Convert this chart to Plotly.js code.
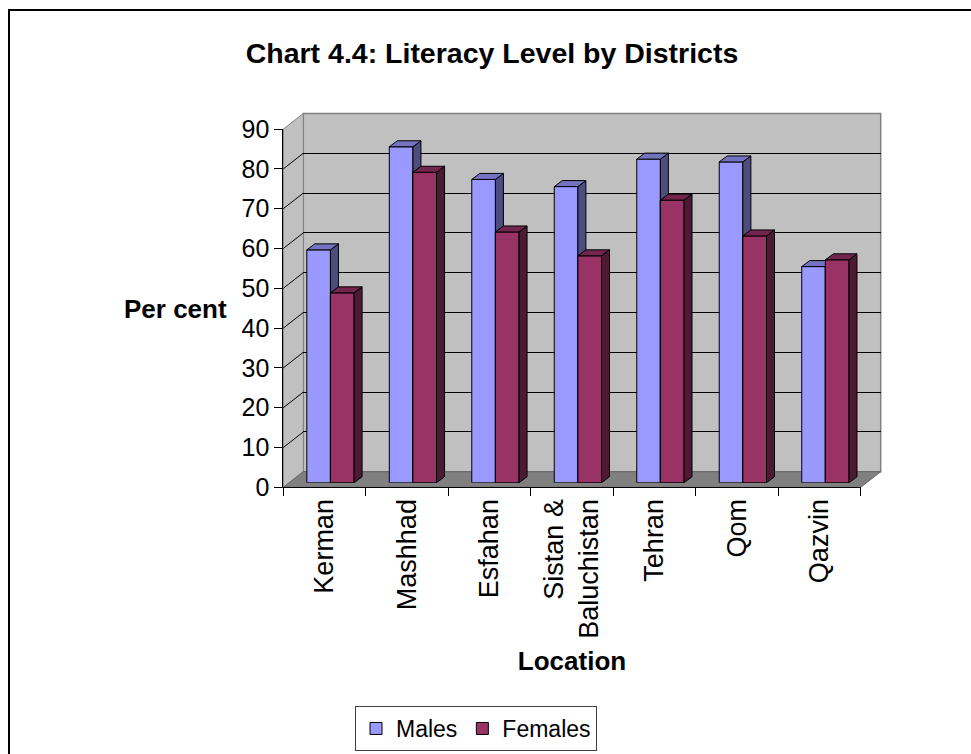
<!DOCTYPE html>
<html>
<head>
<meta charset="utf-8">
<script src="https://cdn.plot.ly/plotly-3.0.1.min.js"></script>
<style>
  html, body { margin: 0; padding: 0; background: #ffffff; }
  #chart { width: 971px; height: 754px; }
</style>
</head>
<body>
<div id="chart"></div>
<script>
// ---- data ----
const categories = ['Kerman', 'Mashhad', 'Esfahan', 'Sistan & Baluchistan', 'Tehran', 'Qom', 'Qazvin'];
const tickLabels = ['Kerman', 'Mashhad', 'Esfahan', 'Sistan &<br>Baluchistan', 'Tehran', 'Qom', 'Qazvin'];
const males   = [58.5, 84.4, 76.2, 74.4, 81.3, 80.6, 54.3];
const females = [47.7, 78.0, 63.0, 57.0, 71.0, 62.0, 56.0];
const yTicks  = [0, 10, 20, 30, 40, 50, 60, 70, 80, 90];
const seriesNames = ['Males', 'Females'];

// ---- geometry (pixels of the 971x754 page) ----
const W = 971, H = 754;
const fx = p => p / W;
const fy = p => 1 - p / H;
const FONT = 'Liberation Sans, Arial, sans-serif';

const FX0 = 283.3, FX1 = 860.7, FY0 = 487.3;   // front plane
const PPU = 3.98;                               // px per unit
const DX = 20, DY = 15.6;                        // wall depth
const T = 0.295;                                 // bar plane depth fraction
const YMAX = 90;
const frontTop = FY0 - YMAX * PPU;

const catW = (FX1 - FX0) / categories.length;   // px per category
const BW = 0.2865;                               // bar width, category units
const DEPX = 8 / catW;                           // bar depth (x units)
const DEPY = 6 / PPU;                            // bar depth (y units)

const idx = categories.map((_, i) => i);

const colors = {
  mFront: '#9999ff', mSide: '#4d4d80', mTop: '#7373bf',
  fFront: '#993366', fSide: '#4d1a33', fTop: '#73264d'
};

function polys(values, offset, kind) {
  const xs = [], ys = [];
  values.forEach((v, i) => {
    const xL = i + offset, xR = xL + BW;
    let pts;
    if (kind === 'side') pts = [[xR, 0], [xR + DEPX, DEPY], [xR + DEPX, v + DEPY], [xR, v], [xR, 0]];
    else if (kind === 'top') pts = [[xL, v], [xR, v], [xR + DEPX, v + DEPY], [xL + DEPX, v + DEPY], [xL, v]];
    else pts = [[xL, 0], [xR, 0], [xR, v], [xL, v], [xL, 0]];
    pts.forEach(p => { xs.push(p[0]); ys.push(p[1]); });
    xs.push(null); ys.push(null);
  });
  return { xs, ys };
}

function faceTrace(values, offset, kind, color) {
  const p = polys(values, offset, kind);
  return {
    type: 'scatter', mode: 'lines', x: p.xs, y: p.ys, xaxis: 'x2', yaxis: 'y2',
    fill: 'toself', fillcolor: color, line: { color: '#000000', width: 1 },
    hoverinfo: 'skip', showlegend: false
  };
}

const traces = [
  // wall subplot dummy
  { type: 'scatter', mode: 'none', x: [0], y: [0], xaxis: 'x', yaxis: 'y', hoverinfo: 'skip', showlegend: false },
  // bars (front faces)
  { type: 'bar', name: seriesNames[0], x: idx, y: males, xaxis: 'x2', yaxis: 'y2', width: BW, offset: -BW,
    marker: { color: colors.mFront, line: { color: '#000000', width: 1 } }, hoverinfo: 'skip' },
  { type: 'bar', name: seriesNames[1], x: idx, y: females, xaxis: 'x2', yaxis: 'y2', width: BW, offset: 0,
    marker: { color: colors.fFront, line: { color: '#000000', width: 1 } }, hoverinfo: 'skip' },
  // 3D faces
  faceTrace(males, -BW, 'side', colors.mSide),
  faceTrace(males, -BW, 'top', colors.mTop),
  faceTrace(females, 0, 'front', colors.fFront),
  faceTrace(females, 0, 'side', colors.fSide),
  faceTrace(females, 0, 'top', colors.fTop),
  // axes subplot dummy (front axes)
  { type: 'scatter', mode: 'none', x: tickLabels, y: tickLabels.map(() => 0), xaxis: 'x3', yaxis: 'y3',
    hoverinfo: 'skip', showlegend: false }
];

// ---- decorative walls ----
const pathOf = pts => 'M ' + pts.map(p => fx(p[0]) + ',' + fy(p[1])).join(' L ') + ' Z';
const shapes = [
  { type: 'rect', xref: 'paper', yref: 'paper', layer: 'below',
    x0: fx(9), x1: fx(990), y0: fy(10), y1: fy(780), line: { color: '#000000', width: 2 } },
  { type: 'rect', xref: 'paper', yref: 'paper', layer: 'below',
    x0: fx(FX0 + DX), x1: fx(FX1 + DX), y0: fy(FY0 - DY), y1: fy(frontTop - DY),
    fillcolor: '#c0c0c0', line: { color: '#808080', width: 1.5 } },
  { type: 'path', xref: 'paper', yref: 'paper', layer: 'below',
    path: pathOf([[FX0, FY0], [FX0 + DX, FY0 - DY], [FX0 + DX, frontTop - DY], [FX0, frontTop]]),
    fillcolor: '#c0c0c0', line: { color: '#808080', width: 1 } },
  { type: 'path', xref: 'paper', yref: 'paper', layer: 'below',
    path: pathOf([[FX0, FY0], [FX1, FY0], [FX1 + DX, FY0 - DY], [FX0 + DX, FY0 - DY]]),
    fillcolor: '#808080', line: { color: '#666666', width: 1 } }
];
yTicks.filter(v => v > 0 && v < YMAX).forEach(v => {
  const yp = FY0 - v * PPU;
  shapes.push({ type: 'line', xref: 'paper', yref: 'paper', layer: 'below',
    x0: fx(FX0), y0: fy(yp), x1: fx(FX0 + DX), y1: fy(yp - DY), line: { color: '#000000', width: 1 } });
});

const hidden = { showgrid: false, zeroline: false, showline: false, ticks: '', showticklabels: false };

const layout = {
  width: W, height: H,
  margin: { l: 0, r: 0, t: 0, b: 0 },
  paper_bgcolor: '#ffffff',
  plot_bgcolor: 'rgba(0,0,0,0)',
  font: { family: FONT, color: '#000000' },
  title: { text: 'Chart 4.4: Literacy Level by Districts', font: { family: FONT, size: 28.5, weight: 700, color: '#000000' },
    x: fx(492), xanchor: 'center', y: fy(53), yanchor: 'middle', xref: 'paper', yref: 'paper' },
  showlegend: true,
  legend: { orientation: 'h', x: fx(476), xanchor: 'center', y: fy(751), yanchor: 'bottom',
    font: { family: FONT, size: 23, color: '#000000' }, bordercolor: '#404040', borderwidth: 1, bgcolor: '#ffffff',
    itemwidth: 30, traceorder: 'normal' },
  barmode: 'overlay',
  hovermode: false,
  // back wall gridlines
  xaxis: Object.assign({ domain: [fx(FX0 + DX), fx(FX1 + DX)], range: [0, 1], anchor: 'y' }, hidden),
  yaxis: { domain: [fy(FY0 - DY), fy(frontTop - DY)], range: [0, YMAX], anchor: 'x',
    tickvals: yTicks.filter(v => v > 0 && v < YMAX), showgrid: true, gridcolor: '#000000', gridwidth: 1,
    zeroline: false, showline: false, ticks: '', showticklabels: false },
  // bars plane
  xaxis2: Object.assign({ domain: [fx(FX0 + DX * T), fx(FX1 + DX * T)], range: [-0.5, categories.length - 0.5], anchor: 'y2' }, hidden),
  yaxis2: Object.assign({ domain: [fy(FY0 - DY * T), fy(frontTop - DY * T)], range: [0, YMAX], anchor: 'x2' }, hidden),
  // front axes
  xaxis3: { domain: [fx(FX0), fx(FX1)], anchor: 'y3', type: 'category', categoryorder: 'array', categoryarray: tickLabels,
    range: [-0.5, categories.length - 0.5], tickson: 'boundaries', ticks: 'outside', ticklen: 8, tickcolor: '#000000',
    showline: true, linecolor: '#000000', linewidth: 1, showgrid: false, zeroline: false, tickangle: -90,
    tickfont: { family: FONT, size: 27, color: '#000000' },
    title: { text: 'Location', font: { family: FONT, size: 26, weight: 700, color: '#000000' }, standoff: 14 } },
  yaxis3: { domain: [fy(FY0), fy(frontTop)], anchor: 'x3', range: [0, YMAX], tickvals: yTicks,
    ticks: 'outside', ticklen: 8, tickcolor: '#000000', showline: true, linecolor: '#000000', linewidth: 1,
    showgrid: false, zeroline: false, tickfont: { family: FONT, size: 25, color: '#000000' } },
  shapes: shapes,
  annotations: [
    { text: 'Per cent', xref: 'paper', yref: 'paper', x: fx(175), y: fy(309), xanchor: 'center', yanchor: 'middle',
      showarrow: false, font: { family: FONT, size: 26, weight: 700, color: '#000000' } }
  ]
};

Plotly.newPlot('chart', traces, layout, { displayModeBar: false, staticPlot: true });
</script>
</body>
</html>
